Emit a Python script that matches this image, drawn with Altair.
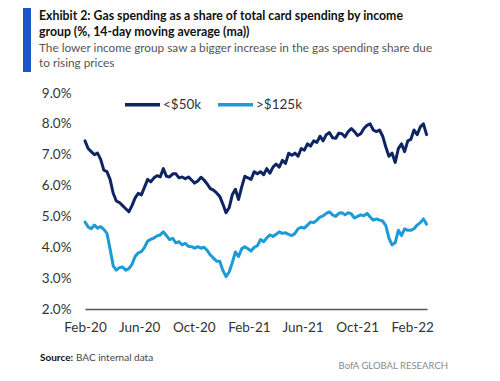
import altair as alt
import pandas as pd

# weekly observations, starting 2020-02-01
start_date = "2020-02-01"
n_weeks = 110

low_income = [
    7.45, 7.20, 7.10, 7.00, 7.05, 6.85, 6.50, 6.45, 6.20, 5.75,
    5.50, 5.45, 5.35, 5.25, 5.15, 5.35, 5.60, 5.75, 5.70, 5.95,
    6.20, 6.12, 6.25, 6.32, 6.28, 6.55, 6.30, 6.28, 6.38, 6.38,
    6.25, 6.28, 6.22, 6.28, 6.18, 6.08, 6.15, 6.27, 6.18, 6.05,
    5.90, 5.85, 5.76, 5.65, 5.40, 5.12, 5.28, 5.70, 5.88, 5.55,
    5.95, 6.30, 6.25, 6.20, 6.45, 6.38, 6.45, 6.35, 6.55, 6.40,
    6.60, 6.70, 6.60, 6.82, 6.72, 7.05, 6.98, 7.05, 6.95, 7.20,
    7.15, 7.35, 7.28, 7.45, 7.40, 7.60, 7.45, 7.65, 7.72, 7.55,
    7.53, 7.70, 7.68, 7.58, 7.75, 7.85, 7.75, 7.62, 7.68, 7.85,
    7.95, 8.00, 7.80, 7.75, 7.80, 7.60, 7.25, 6.95, 7.05, 6.75,
    7.20, 7.35, 7.10, 7.45, 7.50, 7.80, 7.65, 7.90, 8.00, 7.65,
]

high_income = [
    4.82, 4.66, 4.60, 4.72, 4.62, 4.67, 4.58, 4.45, 3.95, 3.40,
    3.26, 3.34, 3.36, 3.26, 3.31, 3.45, 3.70, 3.82, 3.86, 4.00,
    4.20, 4.26, 4.30, 4.37, 4.40, 4.50, 4.38, 4.25, 4.29, 4.14,
    4.18, 4.08, 4.13, 4.03, 4.02, 3.97, 4.02, 3.97, 4.00, 3.90,
    3.75, 3.65, 3.55, 3.55, 3.25, 3.05, 3.20, 3.50, 3.85, 3.70,
    3.95, 4.02, 3.95, 3.88, 4.00, 4.05, 4.25, 4.18, 4.30, 4.40,
    4.35, 4.42, 4.50, 4.45, 4.47, 4.42, 4.38, 4.45, 4.60, 4.65,
    4.62, 4.72, 4.82, 4.80, 4.88, 4.98, 5.02, 5.10, 5.15, 5.05,
    5.00, 5.10, 5.12, 5.05, 5.12, 5.08, 4.95, 5.00, 5.05, 5.02,
    5.10, 4.98, 4.88, 4.92, 4.88, 4.85, 4.70, 4.30, 4.08, 4.15,
    4.55, 4.38, 4.60, 4.55, 4.55, 4.60, 4.72, 4.80, 4.92, 4.75,
]

series_names = ["<$50k", ">$125k"]
series_colors = ["#0e2562", "#1c9bd7"]
tick_dates = ["2020-02-01", "2020-06-01", "2020-10-01", "2021-02-01",
              "2021-06-01", "2021-10-01", "2022-02-01"]
y_ticks = [2, 3, 4, 5, 6, 7, 8, 9]

title_lines = ["Exhibit 2: Gas spending as a share of total card spending by income",
               "group (%, 14-day moving average (ma))"]
subtitle_lines = ["The lower income group saw a bigger increase in the gas spending share due",
                  "to rising prices"]

dates = pd.date_range(start_date, periods=n_weeks, freq="7D")
df = pd.concat([
    pd.DataFrame({"date": dates, "value": low_income, "group": series_names[0]}),
    pd.DataFrame({"date": dates, "value": high_income, "group": series_names[1]}),
])

FONT = "Lato"

x_scale = alt.Scale(domain=[alt.DateTime(year=2020, month=2, date=1),
                            alt.DateTime(year=2022, month=3, date=6)])
y_scale = alt.Scale(domain=[2, 9], nice=False, zero=False)

lines = alt.Chart(df).mark_line(strokeWidth=3, strokeCap="round", strokeJoin="round").encode(
    x=alt.X("date:T", scale=x_scale, title=None,
            axis=alt.Axis(values=tick_dates,
                          format="%b-%y", labelFont=FONT, labelFontSize=13.5,
                          labelColor="#333333", ticks=False, grid=False,
                          domainColor="#555555", domainWidth=1.5,
                          labelPadding=11, labelFlush=False)),
    y=alt.Y("value:Q", scale=y_scale, title=None,
            axis=alt.Axis(values=y_ticks, labelExpr="format(datum.value, '.1f') + '%'",
                          labelFont=FONT, labelFontSize=13.5, labelColor="#333333",
                          ticks=False, grid=False, domain=False, labelPadding=14)),
    color=alt.Color("group:N", scale=alt.Scale(domain=series_names, range=series_colors),
                    sort=series_names,
                    legend=alt.Legend(title=None, orient="none", legendX=38, legendY=-8,
                                      direction="horizontal", symbolType="stroke",
                                      symbolSize=1225, symbolStrokeWidth=3.5,
                                      labelFont=FONT, labelFontSize=13.5,
                                      labelColor="#333333", labelOffset=1,
                                      columnPadding=9)),
)

bar = alt.Chart(pd.DataFrame({"k": [0]})).mark_rect(color="#1c55c5").encode(
    x=alt.value(-62), x2=alt.value(-54), y=alt.value(-85), y2=alt.value(-21))

title1 = alt.Chart(pd.DataFrame({"t": [title_lines[0]]})).mark_text(
    align="left", baseline="alphabetic", font=FONT, fontSize=12.3, fontWeight="bold",
    color="#111111").encode(text="t:N", x=alt.value(-46), y=alt.value(-73))
title2 = alt.Chart(pd.DataFrame({"t": [title_lines[1]]})).mark_text(
    align="left", baseline="alphabetic", font=FONT, fontSize=12.3, fontWeight="bold",
    color="#111111").encode(text="t:N", x=alt.value(-46), y=alt.value(-57))
sub1 = alt.Chart(pd.DataFrame({"t": [subtitle_lines[0]]})).mark_text(
    align="left", baseline="alphabetic", font=FONT, fontSize=11.8,
    color="#555555").encode(text="t:N", x=alt.value(-46), y=alt.value(-41))
sub2 = alt.Chart(pd.DataFrame({"t": [subtitle_lines[1]]})).mark_text(
    align="left", baseline="alphabetic", font=FONT, fontSize=11.8,
    color="#555555").encode(text="t:N", x=alt.value(-46), y=alt.value(-26))

src_bold = alt.Chart(pd.DataFrame({"t": ["Source:"]})).mark_text(
    align="left", baseline="alphabetic", font=FONT, fontSize=10,
    fontWeight="bold", color="#111111").encode(
    text="t:N", x=alt.value(-45), y=alt.value(268))
src_text = alt.Chart(pd.DataFrame({"t": ["BAC internal data"]})).mark_text(
    align="left", baseline="alphabetic", font=FONT, fontSize=10,
    color="#444444").encode(text="t:N", x=alt.value(-9), y=alt.value(268))
brand = alt.Chart(pd.DataFrame({"t": ["BofA GLOBAL RESEARCH"]})).mark_text(
    align="right", baseline="alphabetic", font=FONT, fontSize=9.5,
    color="#8a8a8a").encode(text="t:N", x=alt.value(363), y=alt.value(276))

chart = alt.layer(bar, lines, title1, title2, sub1, sub2, src_bold, src_text, brand).properties(
    width=342, height=216,
    padding={"left": 77, "top": 85, "right": 65, "bottom": 64},
    autosize=alt.AutoSizeParams(type="none"),
).configure_view(stroke=None)

chart.save("out.html", embed_options={"renderer": "svg", "actions": False})
